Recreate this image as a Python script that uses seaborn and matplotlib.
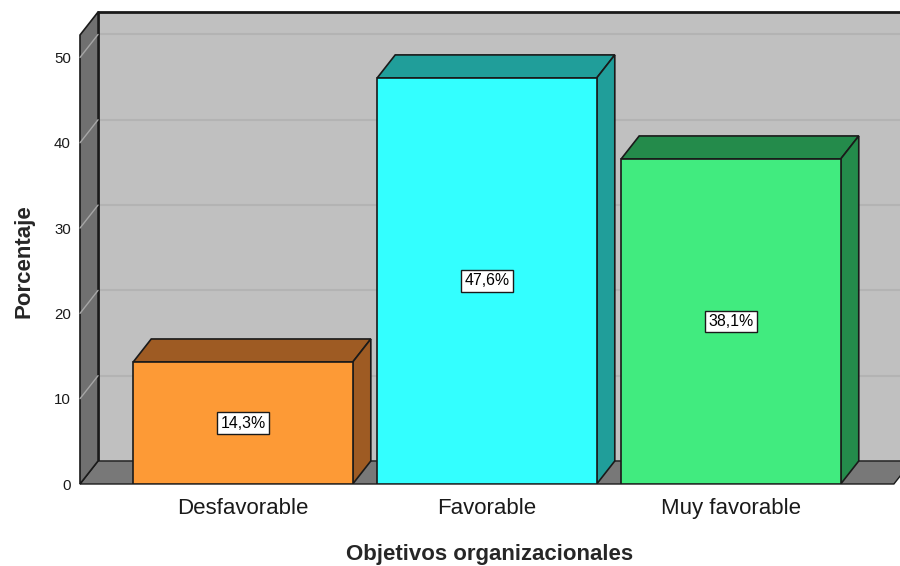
import pandas as pd
import matplotlib.pyplot as plt
from matplotlib.patches import Polygon
import seaborn as sns

# data
categories = ['Desfavorable', 'Favorable', 'Muy favorable']
percentages = [14.3, 47.6, 38.1]
bar_labels = ['14,3%', '47,6%', '38,1%']
y_ticks = [0, 10, 20, 30, 40, 50]

# front faces and darker top/side faces
front_colors = ['#fd9a36', '#33ffff', '#41eb7f']
dark_colors = ['#9e5b23', '#209e9a', '#248b4b']

sns.set_theme(style='white')
plt.rcParams['font.family'] = ['Liberation Sans', 'DejaVu Sans']

df = pd.DataFrame({'categoria': categories, 'porcentaje': percentages})

fig = plt.figure(figsize=(9, 5.66), dpi=100)
ax = fig.add_axes([80 / 900, 82 / 566, 820 / 900, 472 / 566])

sns.barplot(data=df, x='categoria', y='porcentaje', hue='categoria',
            palette=front_colors, saturation=1, width=0.9, legend=False,
            edgecolor='#1a1a1a', linewidth=1.2, ax=ax, zorder=3)
bars = list(ax.patches)

# 3D frame: depth offset in data units
x0, x1 = -0.668, 2.668
xmax, ymax = 2.75, 55.33
dx, dy = 0.074, 2.7
edge = '#1a1a1a'

back = Polygon([(x0 + dx, dy), (xmax, dy), (xmax, ymax), (x0 + dx, ymax)],
               closed=True, fc='#c0c0c0', ec='none', zorder=0.1, clip_on=False)
ax.add_patch(back)
for t in y_ticks[1:]:
    ax.plot([x0 + dx, xmax], [t + dy, t + dy], color='#b3b3b3', lw=1.5, zorder=0.2, clip_on=False)
ax.plot([x0 + dx, xmax], [ymax, ymax], color=edge, lw=2, zorder=0.3, clip_on=False)
ax.plot([x0 + dx, x0 + dx], [dy, ymax], color=edge, lw=2, zorder=0.3, clip_on=False)

floor = Polygon([(x0, 0), (x1, 0), (x1 + dx, dy), (x0 + dx, dy)],
                closed=True, fc='#787878', ec=edge, lw=1, zorder=0.4, clip_on=False)
ax.add_patch(floor)

wall = Polygon([(x0, 0), (x0 + dx, dy), (x0 + dx, ymax), (x0, ymax - dy)],
               closed=True, fc='#707070', ec=edge, lw=1.2, zorder=0.5, clip_on=False)
ax.add_patch(wall)
for t in y_ticks[1:]:
    ax.plot([x0, x0 + dx], [t, t + dy], color='#a6a6a6', lw=1, zorder=0.6, clip_on=False)

# tops and sides of the bars, plus value labels
for bar, dcol, lab in zip(bars, dark_colors, bar_labels):
    l, w, h = bar.get_x(), bar.get_width(), bar.get_height()
    r = l + w
    top = Polygon([(l, h), (l + dx, h + dy), (r + dx, h + dy), (r, h)],
                  closed=True, fc=dcol, ec=edge, lw=1.2, zorder=2.5)
    side = Polygon([(r, 0), (r + dx, dy), (r + dx, h + dy), (r, h)],
                   closed=True, fc=dcol, ec=edge, lw=1.2, zorder=2.5)
    ax.add_patch(top)
    ax.add_patch(side)
    ax.text(l + w / 2, h / 2, lab, ha='center', va='center', fontsize=11.4,
            color='black', zorder=4,
            bbox=dict(boxstyle='square,pad=0.22', fc='white', ec=edge, lw=1))

ax.set_xlim(-0.668, 2.693)
ax.set_ylim(0, ymax)
ax.set_yticks(y_ticks)
ax.set_facecolor('none')
for s in ax.spines.values():
    s.set_visible(False)

ax.tick_params(axis='y', length=0, pad=6.5, labelsize=10.8, labelcolor='#1a1a1a')
ax.tick_params(axis='x', length=0, pad=10, labelsize=16, labelcolor='#1a1a1a')
ax.set_xlabel('Objetivos organizacionales', fontsize=16, fontweight='bold', labelpad=18)
ax.set_ylabel('Porcentaje', fontsize=16, fontweight='bold', labelpad=14)
ax.yaxis.label.set_y(0.472)

fig.savefig('out.png', dpi=100)
